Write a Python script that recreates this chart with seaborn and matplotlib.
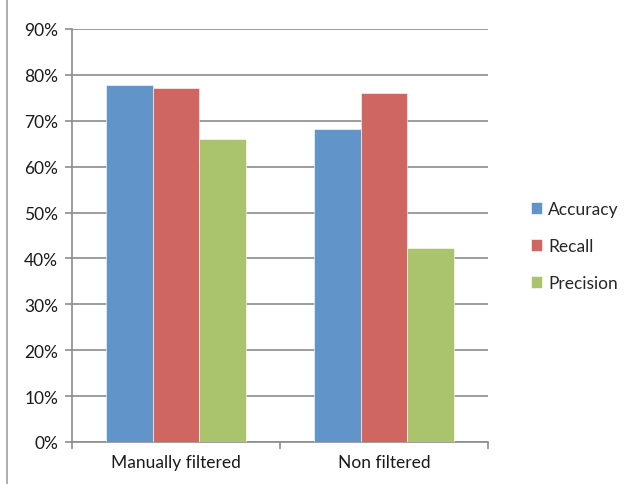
import matplotlib
matplotlib.use("Agg")
import matplotlib.pyplot as plt
from matplotlib.lines import Line2D
from matplotlib.ticker import MultipleLocator, PercentFormatter
import pandas as pd
import seaborn as sns

# values (percent)
categories = ["Manually filtered", "Non filtered"]
metrics = ["Accuracy", "Recall", "Precision"]
accuracy = [77.9, 68.3]
recall = [77.1, 76.1]
precision = [66.1, 42.3]

colors = ["#6194C9", "#CF6661", "#AAC46D"]

df = pd.DataFrame({
    "category": categories * 3,
    "metric": [m for m in metrics for _ in categories],
    "value": accuracy + recall + precision,
})

sns.set_style("white")
plt.rcParams["font.family"] = ["Lato", "DejaVu Sans"]
fs = 12.5

fig = plt.figure(figsize=(6.29, 4.85), dpi=100)
ax = fig.add_axes([72 / 629, 1 - 443 / 485, (488 - 72) / 629, (443 - 30) / 485])

sns.barplot(data=df, x="category", y="value", hue="metric", palette=colors,
            saturation=1, width=0.67, edgecolor="white", linewidth=0.4, ax=ax, zorder=3)

grid = "#8C8C8C"
ax.set_ylim(0, 90)
ax.set_xlim(-0.5, 1.5)
ax.yaxis.set_major_locator(MultipleLocator(10))
ax.yaxis.set_major_formatter(PercentFormatter(decimals=0))
ax.grid(axis="y", color=grid, linewidth=1.2, zorder=0)
ax.set_axisbelow(True)
for side in ["top", "right"]:
    ax.spines[side].set_visible(False)
for side in ["left", "bottom"]:
    ax.spines[side].set_color(grid)
    ax.spines[side].set_linewidth(1.2)

ax.set_xlabel("")
ax.set_ylabel("")
ax.tick_params(axis="y", which="major", length=5, width=1.2, color=grid,
               direction="out", left=True, labelsize=fs, labelcolor="#1a1a1a", pad=5)
# category ticks sit at boundaries in the reference
ax.set_xticks([0, 1])
ax.set_xticklabels(categories)
ax.tick_params(axis="x", which="major", length=0, labelsize=fs, labelcolor="#1a1a1a", pad=9)
ax.set_xticks([-0.5, 0.5, 1.5], minor=True)
ax.tick_params(axis="x", which="minor", length=5, width=1.2, color=grid,
               direction="out", bottom=True)

handles, labels = ax.get_legend_handles_labels()
ax.legend(handles, labels, loc="center left", bbox_to_anchor=(515 / 629, 1 - 247 / 485),
          bbox_transform=fig.transFigure, frameon=False, fontsize=fs,
          handlelength=0.65, handleheight=0.65, handletextpad=0.35, labelspacing=1.2)

# left edge of the chart frame
fig.add_artist(Line2D([7 / 629, 7 / 629], [0, 1], color="#A0A0A0", linewidth=1.2,
                      transform=fig.transFigure))

fig.savefig("out.png", dpi=100)
